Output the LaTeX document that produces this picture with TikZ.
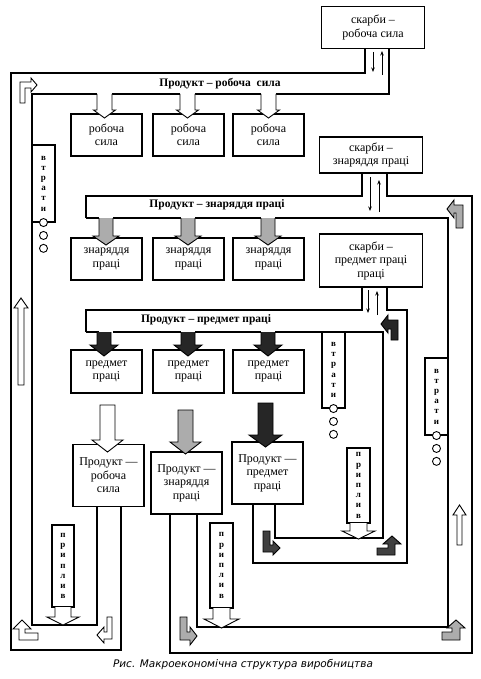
\documentclass[tikz,border=0pt]{standalone}
\usepackage{fontspec}
\setmainfont{Liberation Serif}
\newfontfamily\captionfont{DejaVu Sans}[ItalicFont={DejaVu Sans Oblique}]
\usepackage{tikz}
\usetikzlibrary{arrows.meta,positioning}

\begin{document}
\begin{tikzpicture}[
    x=1pt, y=-1pt,
    box/.style={rectangle, draw=black, fill=white, align=center, minimum width=71pt, minimum height=42pt, inner sep=1pt, line width=1.1pt, font=\fontsize{12}{13.5}\selectfont},
    prodbox/.style={box, minimum height=62pt},
    skarby/.style={box, minimum width=103pt},
    flowlabel/.style={inner sep=0pt, font=\bfseries\fontsize{11.5}{13}\selectfont},
    lossbox/.style={rectangle, draw=black, fill=white, align=center, minimum width=23pt, inner sep=0pt, line width=1.1pt, font=\bfseries\fontsize{9}{10.2}\selectfont},
    dot/.style={circle, draw=black, fill=white, line width=0.9pt, minimum size=8pt, inner sep=0pt},
    pipe/.style={draw=black, line width=1.1pt},
    whitearrow/.style={draw=black, fill=white, line width=0.9pt},
    grayarrow/.style={draw=black, fill=gray!65, line width=0.9pt},
    blackarrow/.style={draw=black, fill=black!85, line width=0.9pt},
    darkarrow/.style={draw=black, fill=black!75, line width=0.9pt},
    thinarrow/.style={-{Stealth[length=4.5pt,width=3.5pt]}, line width=0.9pt}
]
\useasboundingbox (0,0) rectangle (480,679);

% Treasury boxes
\node[skarby] (skarby1) at (373,27.5) {скарби –\\робоча сила};
\node[skarby, minimum height=36pt] (skarby2) at (371,155) {скарби –\\знаряддя праці};
\node[skarby, minimum height=53pt] (skarby3) at (371,260.5) {скарби –\\предмет праці\\праці};

% Labour force boxes
\node[box] (labour1) at (106.5,135) {робоча\\сила};
\node[box] (labour2) at (188.5,135) {робоча\\сила};
\node[box] (labour3) at (268.5,135) {робоча\\сила};

% Tool boxes
\node[box] (tools1) at (106.5,259) {знаряддя\\праці};
\node[box] (tools2) at (188.5,259) {знаряддя\\праці};
\node[box] (tools3) at (268.5,259) {знаряддя\\праці};

% Object boxes
\node[box, minimum height=43pt] (object1) at (106.5,371.5) {предмет\\праці};
\node[box, minimum height=43pt] (object2) at (188.5,371.5) {предмет\\праці};
\node[box, minimum height=43pt] (object3) at (268.5,371.5) {предмет\\праці};

% Product boxes
\node[prodbox] (prodlabour) at (108.5,475.5) {Продукт —\\робоча\\сила};
\node[prodbox] (prodtools) at (186.5,483) {Продукт —\\знаряддя\\праці};
\node[prodbox] (prodobject) at (267.5,473) {Продукт —\\предмет\\праці};

% Losses and inflows
\node[lossbox, minimum height=77pt] (loss1) at (43.5,183.5) {в\\т\\р\\а\\т\\и};
\node[lossbox, minimum height=76pt] (loss2) at (333.5,370) {в\\т\\р\\а\\т\\и};
\node[lossbox, minimum height=77pt] (loss3) at (436.5,396.5) {в\\т\\р\\а\\т\\и};
\node[lossbox, minimum width=22pt, minimum height=82pt] (inflow1) at (63,566) {п\\р\\и\\п\\л\\и\\в};
\node[lossbox, minimum width=23pt, minimum height=85pt] (inflow2) at (221.5,565.5) {п\\р\\и\\п\\л\\и\\в};
\node[lossbox, minimum width=23pt, minimum height=75pt] (inflow3) at (358.5,485.5) {п\\р\\и\\п\\л\\и\\в};

% Pipe 1: labour force
\draw[pipe] (365,49) -- (365,73) -- (11,73) -- (11,650) -- (121,650) -- (121,507);
\draw[pipe] (389,49) -- (389,94) -- (276,94);
\draw[pipe] (261,94) -- (195,94);
\draw[pipe] (180,94) -- (112,94);
\draw[pipe] (97,94) -- (32,94) -- (32,625) -- (97,625) -- (97,507);

% Pipe 2: tools
\draw[pipe] (86,218) -- (86,196) -- (362,196) -- (362,173);
\draw[pipe] (387,173) -- (387,196) -- (472,196) -- (472,653) -- (170,653) -- (170,514);
\draw[pipe] (86,218) -- (99,218);
\draw[pipe] (113,218) -- (181,218);
\draw[pipe] (195,218) -- (261,218);
\draw[pipe] (275,218) -- (448,218) -- (448,627) -- (197,627) -- (197,514);

% Pipe 3: object of labour
\draw[pipe] (86,332) -- (86,310) -- (362,310) -- (362,287);
\draw[pipe] (387,287) -- (387,310) -- (407,310) -- (407,563) -- (253,563) -- (253,504);
\draw[pipe] (86,332) -- (99,332);
\draw[pipe] (113,332) -- (181,332);
\draw[pipe] (195,332) -- (261,332);
\draw[pipe] (275,332) -- (383,332) -- (383,538) -- (275,538) -- (275,504);

% Pipe labels
\node[flowlabel] (flow1) at (220,83.5) {Продукт – робоча\ \ сила};
\node[flowlabel] (flow2) at (217,205) {Продукт – знаряддя праці};
\node[flowlabel] (flow3) at (206,320) {Продукт – предмет праці};

% Exchange with treasury
\draw[thinarrow] (373,52) -- (373,72);
\draw[thinarrow] (382,75) -- (382,51);
\draw[thinarrow] (370,177) -- (370,211);
\draw[thinarrow] (379,212) -- (379,180);
\draw[thinarrow] (368,290) -- (368,313);
\draw[thinarrow] (377,315) -- (377,291);

% Branches into the boxes
\foreach \c in {104.5,187.5,268.5}
  \draw[whitearrow] (\c-7.5,94) -- (\c-7.5,110) -- (\c-11,110) -- (\c,118) -- (\c+11,110) -- (\c+7.5,110) -- (\c+7.5,94);
\foreach \c in {106,188,268}
  \draw[grayarrow] (\c-7,218) -- (\c-7,236) -- (\c-13,236) -- (\c,245) -- (\c+13,236) -- (\c+7,236) -- (\c+7,218);
\foreach \c in {104,188,268}
  \draw[blackarrow] (\c-7,332) -- (\c-7,345) -- (\c-14,345) -- (\c,356) -- (\c+14,345) -- (\c+7,345) -- (\c+7,332);

% Arrows into the product boxes
\draw[whitearrow] (100,405) -- (115,405) -- (115,440) -- (123,440) -- (107.5,452) -- (92,440) -- (100,440) -- cycle;
\draw[grayarrow] (178,410) -- (193,410) -- (193,442) -- (201,442) -- (185.5,454) -- (170,442) -- (178,442) -- cycle;
\draw[blackarrow] (258,403) -- (273,403) -- (273,435) -- (282,435) -- (265.5,447) -- (249,435) -- (258,435) -- cycle;

% Inflow arrows
\draw[whitearrow] (55,607) -- (55,617) -- (47,617) -- (63,625) -- (79,617) -- (71,617) -- (71,607);
\draw[whitearrow] (213,608) -- (213,619) -- (204,619) -- (221.5,628) -- (239,619) -- (230,619) -- (230,608);
\draw[whitearrow] (350,523) -- (350,531) -- (342,531) -- (358.5,539) -- (375,531) -- (367,531) -- (367,523);

% Loss dots
\node[dot] (loss1a) at (loss1.south) {};
\node[dot, below=4pt of loss1a] (loss1b) {};
\node[dot, below=4pt of loss1b] (loss1c) {};
\node[dot] (loss2a) at (loss2.south) {};
\node[dot, below=4pt of loss2a] (loss2b) {};
\node[dot, below=4pt of loss2b] (loss2c) {};
\node[dot] (loss3a) at (loss3.south) {};
\node[dot, below=4pt of loss3a] (loss3b) {};
\node[dot, below=4pt of loss3b] (loss3c) {};

% Direction arrows in pipe 1
\draw[whitearrow] (20,103) -- (20,82) -- (31,82) -- (31,78) -- (37,85) -- (31,92) -- (31,88) -- (25,88) -- (25,103) -- cycle;
\draw[whitearrow] (18,385) -- (18,308) -- (14,308) -- (21,298) -- (28,308) -- (24,308) -- (24,385) -- cycle;
\draw[whitearrow] (38,633) -- (25,633) -- (25,629) -- (31,629) -- (22,620) -- (13,629) -- (19,629) -- (19,640) -- (38,640) -- cycle;
\draw[whitearrow] (107,617) -- (112,617) -- (112,639) -- (104,639) -- (104,643) -- (97,635) -- (104,627) -- (104,632) -- (107,632) -- cycle;

% Direction arrows in pipe 2
\draw[grayarrow] (180,617) -- (187,617) -- (187,632) -- (190,632) -- (190,627) -- (197,636) -- (190,645) -- (190,640) -- (180,640) -- cycle;
\draw[grayarrow] (442,632) -- (452,632) -- (452,628) -- (447,628) -- (456,620) -- (465,628) -- (460,628) -- (460,640) -- (442,640) -- cycle;
\draw[whitearrow] (457,545) -- (457,515) -- (453,515) -- (459.5,505) -- (466,515) -- (462,515) -- (462,545) -- cycle;
\draw[grayarrow] (463,228) -- (456,228) -- (456,213) -- (454,213) -- (454,218) -- (447,209) -- (454,200) -- (454,205) -- (463,205) -- cycle;

% Direction arrows in pipe 3
\draw[blackarrow] (398,340) -- (391,340) -- (391,329) -- (388,329) -- (388,333) -- (381,324) -- (388,315) -- (388,320) -- (398,320) -- cycle;
\draw[darkarrow] (263,531) -- (270,531) -- (270,545) -- (273,545) -- (273,541) -- (280,548) -- (273,555) -- (273,552) -- (263,552) -- cycle;
\draw[darkarrow] (377,548) -- (388,548) -- (388,544) -- (383,544) -- (392,536) -- (401,544) -- (395,544) -- (395,555) -- (377,555) -- cycle;

% Caption
\node[font=\captionfont\itshape\fontsize{10.5}{12}\selectfont] (caption) at (243,665) {Рис. Макроекономічна структура виробництва};

\end{tikzpicture}
\end{document}
